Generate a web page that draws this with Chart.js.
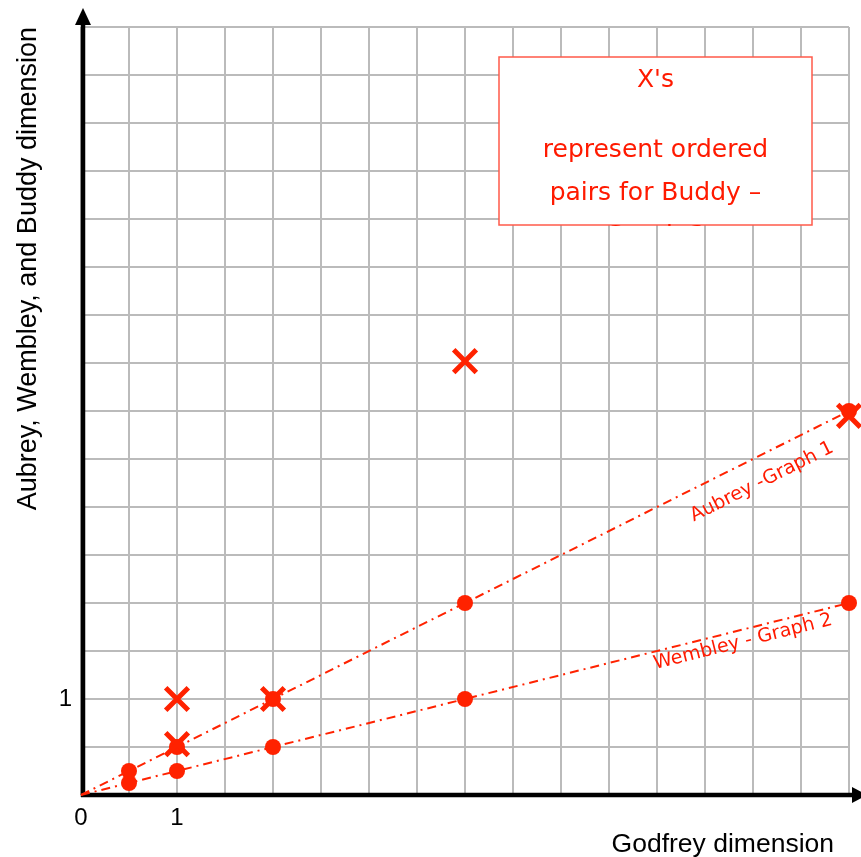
<!DOCTYPE html>
<html>
<head>
<meta charset="utf-8">
<script src="https://cdn.jsdelivr.net/npm/chart.js@4.4.1/dist/chart.umd.min.js"></script>
<style>
  html, body { margin: 0; padding: 0; background: #fff; }
  canvas { display: block; }
</style>
</head>
<body>
<canvas id="myChart" width="861" height="857"></canvas>
<script>
// values
var godfrey = [0, 0.5, 1, 2, 4, 8];
var aubrey  = [0, 0.25, 0.5, 1, 2, 4];
var wembley = [0, 0.125, 0.25, 0.5, 1, 2];
var buddyX  = [1, 1, 2, 4, 8];
var buddyY  = [1, 0.53, 1, 4.52, 3.95];
var xTickLabels = { 0: '0', 1: '1' };
var yTickLabels = { 1: '1' };
var boxLines = ["X's", '', 'represent ordered', 'pairs for Buddy \u2013', 'Graph 3'];

var red = '#ff2200';
var textRed = '#ff1a00';

function pairs(xs, ys) {
  return xs.map(function (v, i) { return { x: v, y: ys[i] }; });
}

var extras = {
  id: 'extras',
  beforeDatasetsDraw: function (chart) {
    var ctx = chart.ctx, x = chart.scales.x, y = chart.scales.y;
    var x0 = x.getPixelForValue(0), y0 = y.getPixelForValue(0);
    ctx.save();
    ctx.strokeStyle = '#000';
    ctx.fillStyle = '#000';
    ctx.lineWidth = 4.5;
    // y axis with arrow
    ctx.beginPath();
    ctx.moveTo(x0 + 2, y0 + 2);
    ctx.lineTo(x0 + 2, 22);
    ctx.stroke();
    ctx.beginPath();
    ctx.moveTo(x0 + 2, 8);
    ctx.lineTo(x0 - 6, 25);
    ctx.lineTo(x0 + 10, 25);
    ctx.closePath();
    ctx.fill();
    // x axis with arrow
    ctx.beginPath();
    ctx.moveTo(x0, y0);
    ctx.lineTo(855, y0);
    ctx.stroke();
    ctx.beginPath();
    ctx.moveTo(867, y0);
    ctx.lineTo(852, y0 - 8);
    ctx.lineTo(852, y0 + 8);
    ctx.closePath();
    ctx.fill();
    ctx.restore();
  },
  afterDraw: function (chart) {
    var ctx = chart.ctx, x = chart.scales.x, y = chart.scales.y;
    var x0 = x.getPixelForValue(0), y0 = y.getPixelForValue(0);
    ctx.save();

    // x axis title
    ctx.fillStyle = '#000';
    ctx.font = '26.5px "Liberation Sans"';
    ctx.textAlign = 'right';
    ctx.textBaseline = 'alphabetic';
    ctx.fillText('Godfrey dimension', 834, 852);

    // rotated line labels
    ctx.fillStyle = textRed;
    ctx.font = '19px "DejaVu Sans"';
    ctx.textAlign = 'center';
    ctx.textBaseline = 'middle';
    var a1 = Math.atan2(y.getPixelForValue(aubrey[5]) - y0, x.getPixelForValue(godfrey[5]) - x0);
    ctx.save();
    ctx.translate(762, 482);
    ctx.rotate(a1);
    ctx.fillText('Aubrey -Graph 1', 0, 0);
    ctx.restore();
    var a2 = Math.atan2(y.getPixelForValue(wembley[5]) - y0, x.getPixelForValue(godfrey[5]) - x0);
    ctx.save();
    ctx.translate(743, 642);
    ctx.rotate(a2);
    ctx.fillText('Wembley - Graph 2', 0, 0);
    ctx.restore();

    // note box
    var bx = 499, by = 57, bw = 313, bh = 168;
    ctx.fillStyle = '#fff';
    ctx.fillRect(bx, by, bw, bh);
    ctx.strokeStyle = '#ff5a4a';
    ctx.lineWidth = 1.5;
    ctx.strokeRect(bx, by, bw, bh);
    ctx.beginPath();
    ctx.rect(bx - 2, by, bw + 4, bh + 1);
    ctx.clip();
    ctx.fillStyle = textRed;
    ctx.font = '25px "DejaVu Sans"';
    var ly = [80, 115, 150, 193, 236];
    boxLines.forEach(function (t, i) {
      ctx.fillText(t, bx + bw / 2, ly[i]);
    });
    ctx.restore();
  }
};

var ctx = document.getElementById('myChart');
var myChart = new Chart(ctx, {
  type: 'scatter',
  data: {
    datasets: [{
      label: 'Buddy',
      data: pairs(buddyX, buddyY),
      pointStyle: 'crossRot',
      pointRadius: 16,
      borderColor: red,
      backgroundColor: red,
      pointBorderWidth: 5,
      showLine: false,
      clip: false
    }, {
      label: 'Aubrey - Graph 1',
      data: pairs(godfrey, aubrey),
      showLine: true,
      borderColor: red,
      borderWidth: 2,
      borderDash: [9, 5, 2, 5],
      backgroundColor: red,
      pointBorderWidth: 0,
      pointRadius: [0, 8, 8, 8, 8, 8],
      clip: false
    }, {
      label: 'Wembley - Graph 2',
      data: pairs(godfrey, wembley),
      showLine: true,
      borderColor: red,
      borderWidth: 2,
      borderDash: [9, 5, 2, 5],
      backgroundColor: red,
      pointBorderWidth: 0,
      pointRadius: [0, 8, 8, 8, 8, 8],
      clip: false
    }]
  },
  options: {
    responsive: false,
    animation: false,
    events: [],
    layout: {
      autoPadding: false,
      padding: { top: 27, right: 12, left: 0, bottom: 0 }
    },
    plugins: {
      legend: { display: false },
      tooltip: { enabled: false }
    },
    scales: {
      x: {
        type: 'linear',
        min: 0,
        max: 8,
        afterFit: function (s) {
          s.height = 62;
          s.paddingLeft = 0;
          s.paddingRight = 0;
        },
        border: { display: false },
        grid: { color: '#bbbbbb', lineWidth: 2, drawTicks: false },
        ticks: {
          stepSize: 0.5,
          autoSkip: false,
          maxRotation: 0,
          padding: 9,
          color: '#000',
          font: { family: 'Liberation Sans', size: 24 },
          callback: function (v) { return xTickLabels[v] || ''; }
        },
        title: { display: false }
      },
      y: {
        type: 'linear',
        min: 0,
        max: 8,
        afterFit: function (s) {
          s.width = 81;
          s.paddingTop = 0;
          s.paddingBottom = 0;
        },
        border: { display: false },
        grid: { color: '#bbbbbb', lineWidth: 2, drawTicks: false },
        ticks: {
          stepSize: 0.5,
          autoSkip: false,
          padding: 9,
          color: '#000',
          font: { family: 'Liberation Sans', size: 24 },
          callback: function (v) { return yTickLabels[v] || ''; }
        },
        title: {
          display: true,
          text: 'Aubrey, Wembley, and Buddy dimension',
          align: 'end',
          color: '#000',
          font: { family: 'Liberation Sans', size: 27, lineHeight: 1 },
          padding: { top: 15, bottom: 0 }
        }
      }
    }
  },
  plugins: [extras]
});
</script>
</body>
</html>
